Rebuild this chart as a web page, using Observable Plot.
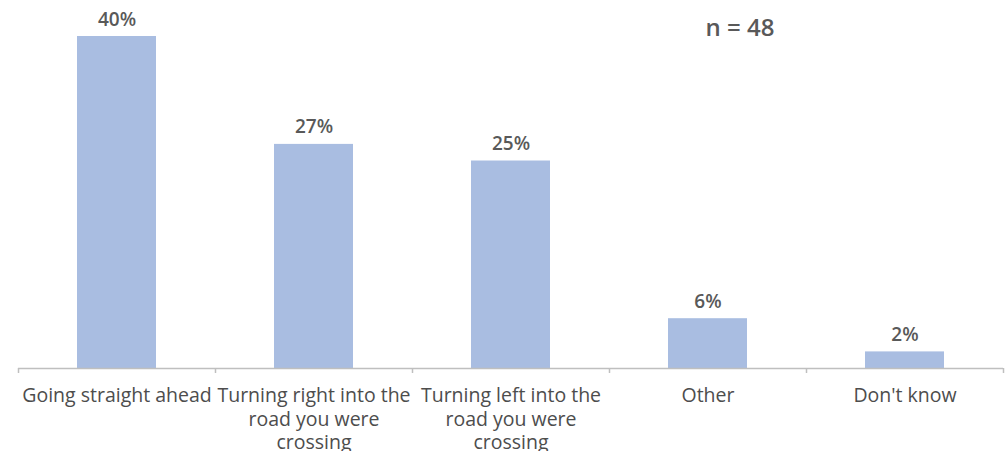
<!DOCTYPE html>
<html>
<head>
<meta charset="utf-8">
<script src="https://cdn.jsdelivr.net/npm/d3@7"></script>
<script src="https://cdn.jsdelivr.net/npm/@observablehq/plot@0.6"></script>
<style>
  html, body { margin: 0; padding: 0; background: #fff; }
  #chart svg { display: block; }
</style>
</head>
<body>
<div id="chart"></div>
<script>
const categories = [
  "Going straight ahead",
  "Turning right into the\nroad you were\ncrossing",
  "Turning left into the\nroad you were\ncrossing",
  "Other",
  "Don't know"
];
const values = [40, 27, 25, 6, 2];
const sampleLabel = "n = 48";

const data = categories.map((c, i) => ({category: c, value: values[i]}));
const textColor = "#595959";
const font = "'Open Sans', sans-serif";

const chart = Plot.plot({
  width: 1008,
  height: 451,
  marginLeft: 18,
  marginRight: 5,
  marginTop: 36,
  marginBottom: 83,
  style: {fontFamily: font, color: textColor, background: "#fff"},
  x: {domain: categories, paddingInner: 0.6, paddingOuter: 0.3, label: null},
  y: {domain: [0, 40], axis: null},
  marks: [
    Plot.barY(data, {x: "category", y: "value", fill: "#a9bde1"}),
    Plot.ruleY([0], {stroke: "#bfbfbf", strokeWidth: 1.5}),
    Plot.ruleX(categories, {x: d => d, y1: 0, y2: -0.6, dx: -98.5, stroke: "#bfbfbf", strokeWidth: 1.5}),
    Plot.ruleX([categories[categories.length - 1]], {x: d => d, y1: 0, y2: -0.6, dx: 98.5, stroke: "#bfbfbf", strokeWidth: 1.5}),
    Plot.text(data, {x: "category", y: "value", text: d => d.value + "%", dy: -17, fontSize: 19, fontWeight: 600, fill: textColor}),
    Plot.axisX({tickSize: 0, tickPadding: 16, fontSize: 19.5, lineHeight: 1.23, fill: "#4d4d4d", textOverflow: null}),
    Plot.text([sampleLabel], {frameAnchor: "top-right", text: d => d, textAnchor: "end", dx: -229, dy: -8, lineAnchor: "middle", fontSize: 24, fontWeight: 600, fill: textColor})
  ]
});
document.getElementById("chart").appendChild(chart);
</script>
</body>
</html>
